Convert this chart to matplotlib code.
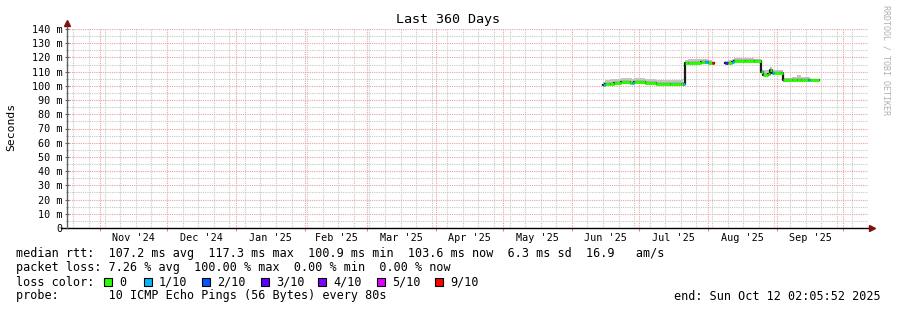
import numpy as np
import pandas as pd
import matplotlib
matplotlib.use('Agg')
import matplotlib.pyplot as plt
import matplotlib.dates as mdates
from matplotlib.patches import Rectangle

plt.rcParams['font.family'] = ['DejaVu Sans Mono']

# smokeping median rtt, steps start at each date (ms)
dates = ['2025-06-15', '2025-06-16', '2025-06-18', '2025-06-20', '2025-06-23',
         '2025-06-27', '2025-06-28', '2025-06-29', '2025-07-04', '2025-07-09',
         '2025-07-15', '2025-07-20', '2025-07-21', '2025-07-22', '2025-07-23',
         '2025-07-29', '2025-07-31', '2025-08-01', '2025-08-03', '2025-08-04',
         '2025-08-09', '2025-08-10', '2025-08-12', '2025-08-13', '2025-08-18',
         '2025-08-22', '2025-08-25', '2025-08-26', '2025-08-28', '2025-08-29',
         '2025-08-30', '2025-08-31', '2025-09-03', '2025-09-04', '2025-09-08',
         '2025-09-10', '2025-09-12', '2025-09-15', '2025-09-16', '2025-09-20']
median = [100.9, 101.2, 101.5, 102.3, 102.4,
          102.3, 102.3, 102.4, 102.2, 101.1,
          101.0, 101.2, 101.0, 116.0, 116.4,
          116.5, 116.5, 116.4, 116.2, np.nan,
          116.0, 116.0, 117.0, 117.4, 117.5,
          117.2, 109.5, 107.8, 108.2, 111.5,
          109.0, 109.2, 109.0, 103.8, 104.0,
          104.2, 104.2, 104.0, 104.0, np.nan]
smoke_hi = [102.5, 103.8, 104.6, 105.0, 105.4,
            105.2, 105.0, 105.2, 104.9, 104.3,
            104.4, 105.0, 103.0, 118.0, 118.8,
            118.8, 118.6, 118.4, 118.0, np.nan,
            117.5, 118.5, 119.0, 119.3, 119.3,
            118.8, 111.5, 111.0, 111.5, 113.5,
            111.0, 111.2, 111.0, 105.6, 106.0,
            107.6, 106.4, 106.0, 106.0, np.nan]
loss = [1, 0, 0, 0, 0,
        0, 1, 0, 0, 0,
        0, 0, 1, 0, 0,
        0, 1, 0, 9, 0,
        3, 0, 1, 0, 0,
        0, 0, 0, 0, 0,
        1, 0, 0, 0, 0,
        0, 0, 1, 0, 0]

loss_levels = ['0', '1/10', '2/10', '3/10', '4/10', '5/10', '9/10']
loss_colors = {0: '#26ff00', 1: '#00b8ff', 2: '#0059ff', 3: '#5e00ff',
               4: '#7e00ff', 5: '#dd00ff', 9: '#ff0000'}

months = pd.date_range('2024-10-01', '2025-11-01', freq='MS')
month_labels = ["Nov '24", "Dec '24", "Jan '25", "Feb '25", "Mar '25", "Apr '25",
                "May '25", "Jun '25", "Jul '25", "Aug '25", "Sep '25"]

end_time = pd.Timestamp('2025-10-12 02:05:52')
start_time = end_time - pd.Timedelta(days=360)

W, H = 897, 310
fig = plt.figure(figsize=(W / 100, H / 100), dpi=100)
fig.patch.set_facecolor('white')
ax = fig.add_axes([67 / W, 1 - 228 / H, (868 - 67) / W, (228 - 29) / H])
ax.set_facecolor('white')

df = pd.DataFrame({'date': pd.to_datetime(dates), 'median': median,
                   'smoke_hi': smoke_hi, 'loss': loss})

# smoke
ax.fill_between(df['date'], df['median'], df['smoke_hi'], step='post',
                color='#c4c4c4', lw=0, zorder=2)
ax.fill_between(df['date'], df['median'] - 0.8, df['median'], step='post',
                color='#a0a0a0', lw=0, zorder=2)
# black step (transitions)
ax.step(df['date'], df['median'], where='post', color='#1a1a1a', lw=1.6, zorder=3)
# coloured median by loss
for i in range(len(df) - 1):
    if np.isnan(df['median'][i]):
        continue
    ax.hlines(df['median'][i], df['date'][i], df['date'][i + 1],
              color=loss_colors[df['loss'][i]], lw=2.1, zorder=4)

ax.set_xlim(start_time, end_time)
ax.set_ylim(0, 140)

# grid
ax.xaxis.set_major_locator(mdates.MonthLocator())
ax.xaxis.set_minor_locator(mdates.WeekdayLocator(byweekday=mdates.SU))
ax.yaxis.set_major_locator(plt.MultipleLocator(10))
ax.yaxis.set_minor_locator(plt.MultipleLocator(5))
ax.grid(which='minor', color='#c8c8c8', lw=0.8, linestyle=(0, (1, 1)))
ax.grid(which='major', color='#f0a0a0', lw=0.8, linestyle=(0, (1, 1)))
ax.set_axisbelow(True)

ax.tick_params(axis='x', which='major', length=2.5, color='#e08080',
               labelbottom=False)
ax.tick_params(axis='x', which='minor', length=0, labelbottom=False)
ax.tick_params(axis='y', which='major', length=2.5, color='#606060',
               labelsize=7.3, pad=2, direction='inout')
ax.tick_params(axis='y', which='minor', length=1.5, color='#909090',
               direction='inout')
yt = np.arange(0, 141, 10)
ax.set_yticks(yt)
ax.set_yticklabels(['0'] + ['%d m' % v for v in yt[1:]])

for s in ax.spines.values():
    s.set_visible(False)
# axes lines with rrdtool arrows
ax.plot([-6 / 801, 1.005], [0, 0], color='black', lw=1, transform=ax.transAxes,
        clip_on=False, zorder=6)
ax.plot([0, 0], [0, 1.03], color='#606060', lw=1, transform=ax.transAxes,
        clip_on=False, zorder=6)
ax.plot([1.005], [0], marker='>', ms=4, color='#7f1010', transform=ax.transAxes,
        clip_on=False, zorder=7)
ax.plot([0], [1.03], marker='^', ms=4, color='#7f1010', transform=ax.transAxes,
        clip_on=False, zorder=7)

# month labels at mid month
for i, lab in enumerate(month_labels):
    m0 = months[i + 1]
    m1 = months[i + 2]
    mid = m0 + (m1 - m0) / 2
    ax.text(mid, -10 / 199 * 140, lab, ha='center', va='center', fontsize=7.3,
            clip_on=False)

fig.text(448 / W, 1 - 19 / H, 'Last 360 Days', ha='center', va='center',
         fontsize=9.6)
fig.text(11 / W, 1 - 127 / H, 'Seconds', ha='center', va='center',
         rotation=90, fontsize=8.2)
fig.text(886 / W, 1 - 5 / H, 'RRDTOOL / TOBI OETIKER', ha='center', va='top',
         rotation=270, fontsize=6.0, color='#b0b0b0')

fs = 8.5
fig.text(16 / W, 1 - 254 / H,
         'median rtt:  107.2 ms avg  117.3 ms max  100.9 ms min  103.6 ms now  6.3 ms sd  16.9   am/s',
         ha='left', va='center', fontsize=fs)
fig.text(16 / W, 1 - 268 / H,
         'packet loss: 7.26 % avg  100.00 % max  0.00 % min  0.00 % now',
         ha='left', va='center', fontsize=fs)
fig.text(16 / W, 1 - 282 / H, 'loss color:', ha='left', va='center', fontsize=fs)
box_x = [104, 144, 202, 261, 318, 377, 435]
keys = [0, 1, 2, 3, 4, 5, 9]
for bx, k, lab in zip(box_x, keys, loss_levels):
    fig.patches.append(Rectangle((bx / W, 1 - 282 / H - 4 / H), 8 / W, 8 / H,
                                 transform=fig.transFigure, facecolor=loss_colors[k],
                                 edgecolor='black', lw=0.8))
    fig.text((bx + 15) / W, 1 - 282 / H, lab, ha='left', va='center', fontsize=fs)
fig.text(16 / W, 1 - 296 / H,
         'probe:       10 ICMP Echo Pings (56 Bytes) every 80s',
         ha='left', va='center', fontsize=fs)
fig.text(881 / W, 1 - 296 / H, 'end: Sun Oct 12 02:05:52 2025',
         ha='right', va='center', fontsize=fs)

fig.savefig('out.png', dpi=100)
